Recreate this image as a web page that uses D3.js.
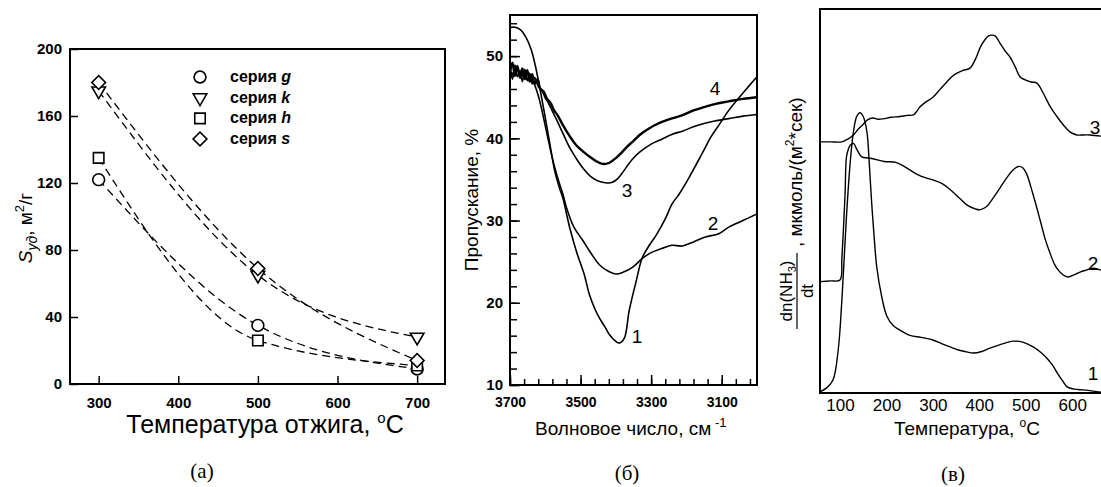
<!DOCTYPE html>
<html>
<head>
<meta charset="utf-8">
<script src="https://cdn.jsdelivr.net/npm/d3@7"></script>
<style>
  body { margin: 0; background: #fff; }
  svg { display: block; }
  text { font-family: Arial, "Liberation Sans", sans-serif; fill: #000; }
  .serif { font-family: "Times New Roman", "Liberation Serif", serif; }
</style>
</head>
<body>
<div id="chart"></div>
<script>
// ---- panel (a): specific surface vs annealing temperature ----
const annealTemp = [300, 500, 700];
const seriesNames = ["g", "k", "h", "s"];
const surfaceG = [122, 35, 9];
const surfaceK = [175, 65, 28];
const surfaceH = [135, 26, 11];
const surfaceS = [180, 69, 14];
const ticksA_x = [300, 400, 500, 600, 700];
const ticksA_y = [0, 40, 80, 120, 160, 200];

// ---- panel (б): IR transmission spectra ----
const wn1 = [3700, 3685, 3670, 3655, 3640, 3628, 3615, 3600, 3585, 3573, 3560, 3550, 3530, 3510, 3490, 3475, 3460, 3446, 3430, 3418, 3400, 3390, 3376, 3362, 3342, 3325, 3305, 3286, 3260, 3241, 3221, 3193, 3170, 3150, 3130, 3108, 3080, 3050, 3020, 3000];
const tr1 = [53.5, 53.5, 53.2, 52.3, 50.8, 48.8, 46, 42.5, 38.8, 36, 34, 32.7, 29, 26, 23.5, 21, 19.3, 18.1, 17, 16.1, 15.3, 15.1, 15.7, 19.1, 22.7, 25.5, 27, 28.2, 30.2, 32, 33.2, 35.2, 37, 38.6, 40.2, 41.6, 43.4, 45, 46.5, 47.5];
const wn2 = [3700, 3690, 3680, 3670, 3660, 3650, 3640, 3630, 3620, 3610, 3595, 3580, 3565, 3550, 3540, 3520, 3494, 3470, 3446, 3420, 3400, 3380, 3353, 3325, 3300, 3270, 3241, 3213, 3180, 3146, 3108, 3080, 3040, 3000];
const tr2 = [48.3, 47.6, 48.5, 47.3, 48, 47.1, 47.4, 46.5, 45.2, 43.5, 40.5, 37.6, 35.2, 33.2, 31.6, 29.3, 27.6, 26, 24.6, 23.8, 23.5, 23.7, 24.3, 25.4, 26.1, 26.6, 27, 26.9, 27.4, 28, 28.4, 29.2, 30, 30.8];
const wn3 = [3700, 3693, 3686, 3679, 3672, 3665, 3658, 3651, 3644, 3637, 3630, 3620, 3610, 3600, 3590, 3580, 3565, 3550, 3530, 3510, 3490, 3470, 3450, 3430, 3415, 3400, 3385, 3370, 3350, 3330, 3300, 3270, 3240, 3210, 3180, 3150, 3120, 3080, 3040, 3000];
const tr3 = [48.6, 47.2, 48.9, 47.5, 48.2, 46.9, 48.4, 47, 47.9, 46.6, 47.4, 46.3, 45.8, 44.9, 44.2, 43.3, 42, 40.6, 38.8, 37.4, 36.2, 35.3, 34.8, 34.6, 34.6, 34.9, 35.6, 36.5, 37.6, 38.4, 39.3, 39.9, 40.5, 40.9, 41.4, 41.8, 42.1, 42.4, 42.7, 42.9];
const wn4 = [3700, 3693, 3686, 3679, 3672, 3665, 3658, 3651, 3644, 3637, 3630, 3622, 3615, 3605, 3595, 3585, 3575, 3565, 3550, 3530, 3511, 3490, 3475, 3455, 3438, 3420, 3400, 3385, 3370, 3350, 3330, 3306, 3280, 3250, 3213, 3180, 3150, 3117, 3080, 3040, 3000];
const tr4 = [48, 49.2, 47.6, 48.8, 47.4, 48.5, 47.2, 48.3, 46.9, 47.8, 46.6, 47.2, 46.1, 45.7, 44.8, 44.3, 43.4, 42.8, 41.6, 40.2, 39.1, 38.3, 37.8, 37.2, 36.9, 37, 37.6, 38.2, 38.9, 39.7, 40.5, 41.2, 41.8, 42.3, 42.8, 43.4, 43.8, 44.2, 44.5, 44.8, 45];
const ticksB_x = [3700, 3500, 3300, 3100];
const ticksB_y = [10, 20, 30, 40, 50];

// ---- panel (в): NH3 TPD (arbitrary units) ----
const tpdT1 = [57, 70, 85, 96, 104, 114, 122, 129, 136, 143, 150, 158, 163, 168, 174, 179, 190, 201, 215, 229, 251, 275, 300, 320, 337, 355, 373, 387, 405, 423, 445, 473, 495, 516, 532, 546, 558, 568, 579, 589, 605, 624, 645, 662];
const tpd1 = [0.3, 1.2, 3.4, 11, 24, 46, 60, 68, 72, 73, 72, 68, 60, 50, 40, 33, 25, 20, 17.5, 16.4, 15, 14.5, 13.8, 12.8, 12, 11.2, 10.7, 10.4, 10.8, 11.7, 12.6, 13.5, 13.2, 12, 10.6, 9, 7.2, 5.2, 3.2, 1.6, 1, 0.8, 0.5, 0.2];
const tpdT2 = [57, 80, 100, 104, 107, 111, 114, 118, 122, 129, 136, 147, 160, 171, 195, 222, 245, 265, 285, 300, 320, 337, 355, 373, 390, 401, 415, 430, 445, 459, 472, 484, 494, 502, 515, 531, 542, 552, 562, 570, 580, 591, 605, 617, 630, 645, 662];
const tpd2 = [29, 29.2, 29.4, 35, 41.6, 52, 61.5, 63.5, 64.5, 65, 63.5, 61.5, 61.2, 61, 60.3, 60, 58.5, 57, 56, 55.5, 54.5, 53, 51, 49, 48, 47.7, 48.5, 50.8, 53.5, 56, 58, 59, 58.6, 57, 52, 45, 40, 36.5, 33.5, 32, 30.8, 30.2, 30.8, 31.5, 32, 32.5, 32];
const tpdT3 = [57, 80, 104, 115, 129, 140, 150, 160, 171, 182, 193, 210, 229, 245, 258, 265, 272, 285, 300, 315, 330, 342, 352, 365, 380, 392, 402, 412, 420, 427, 434, 445, 456, 466, 477, 488, 500, 512, 524, 538, 553, 567, 581, 595, 610, 625, 638, 662];
const tpd3 = [65.4, 65.4, 65.4, 66, 67.2, 68.8, 70, 71.2, 71.6, 71.3, 71.4, 71.8, 72, 72.3, 72.4, 73.3, 74.5, 75.8, 77, 79, 81, 82.5, 83.3, 84, 84.6, 87, 90, 92, 93, 93.2, 93, 91, 89, 87.5, 85, 82.3, 81.5, 81, 80.7, 78, 74.5, 72, 69.8, 68, 67.2, 67.2, 67.2, 66.9];
const ticksC_x = [100, 200, 300, 400, 500, 600];

const w = 1101;
const h = 487;

const svg = d3.select("#chart").append("svg")
  .attr("width", w)
  .attr("height", h);
svg.append("rect").attr("width", w).attr("height", h).attr("fill", "#fff");

const boldAxisText = (g, size) => {
  g.select(".domain").remove();
  g.selectAll("line").attr("stroke-width", 1.5);
  g.selectAll("text").attr("font-size", size).attr("font-weight", "bold")
    .attr("font-family", "Arial, 'Liberation Sans', sans-serif");
};

// =================== (a) ===================
const A = { left: 70, right: 445, top: 49, bottom: 384 };
const xA = d3.scaleLinear().domain([264, 735]).range([A.left, A.right]);
const yA = d3.scaleLinear().domain([0, 200]).range([A.bottom, A.top]);

const gA = svg.append("g");

gA.append("g")
  .attr("transform", `translate(0,${A.bottom})`)
  .call(d3.axisBottom(xA).tickValues(ticksA_x).tickSizeInner(-8).tickSizeOuter(0).tickPadding(13))
  .call(g => boldAxisText(g, 15));

gA.append("g")
  .attr("transform", `translate(${A.left},0)`)
  .call(d3.axisLeft(yA).tickValues(ticksA_y).tickSizeInner(-8).tickSizeOuter(0).tickPadding(8))
  .call(g => boldAxisText(g, 15));

gA.append("rect")
  .attr("x", A.left).attr("y", A.top)
  .attr("width", A.right - A.left).attr("height", A.bottom - A.top)
  .attr("fill", "none").attr("stroke", "#000").attr("stroke-width", 2);

const symbolFor = {
  g: d3.symbol().type(d3.symbolCircle).size(110),
  k: d3.symbol().type(d3.symbolTriangle).size(80),
  h: d3.symbol().type(d3.symbolSquare).size(110),
  s: d3.symbol().type(d3.symbolSquare).size(95)
};
const rotFor = { g: 0, k: 180, h: 0, s: 45 };
const valuesFor = { g: surfaceG, k: surfaceK, h: surfaceH, s: surfaceS };

// dashed curves first, markers on top
const lineA = d3.line().x(d => xA(d[0])).y(d => yA(d[1])).curve(d3.curveMonotoneX);
seriesNames.forEach(name => {
  const pts = annealTemp.map((t, i) => [t, valuesFor[name][i]]);
  gA.append("path")
    .attr("d", lineA(pts))
    .attr("fill", "none")
    .attr("stroke", "#000")
    .attr("stroke-width", 1.3)
    .attr("stroke-dasharray", "8,5");
});
seriesNames.forEach(name => {
  gA.selectAll(null)
    .data(annealTemp.map((t, i) => [t, valuesFor[name][i]]))
    .enter().append("path")
    .attr("d", symbolFor[name]())
    .attr("transform", d => `translate(${xA(d[0])},${yA(d[1])}) rotate(${rotFor[name]})`)
    .attr("fill", "#fff")
    .attr("stroke", "#000")
    .attr("stroke-width", 1.6);
});

// legend
const legA = gA.append("g");
seriesNames.forEach((name, i) => {
  const ly = 77 + i * 20.7;
  legA.append("path")
    .attr("d", symbolFor[name]())
    .attr("transform", `translate(200,${ly}) rotate(${rotFor[name]})`)
    .attr("fill", "#fff").attr("stroke", "#000").attr("stroke-width", 1.6);
  const t = legA.append("text")
    .attr("x", 230).attr("y", ly + 5)
    .attr("font-size", 16).attr("font-weight", "bold");
  t.append("tspan").text("серия ");
  t.append("tspan").attr("font-style", "italic").text(name);
});

// axis titles
const tA = gA.append("text")
  .attr("x", 265).attr("y", 433)
  .attr("text-anchor", "middle")
  .attr("font-size", 25);
tA.append("tspan").text("Температура отжига, ");
tA.append("tspan").attr("font-size", 15).attr("dy", -10).text("o");
tA.append("tspan").attr("dy", 10).text("C");

const yTitleA = gA.append("text")
  .attr("transform", "translate(32,228) rotate(-90)")
  .attr("text-anchor", "middle")
  .attr("font-size", 19);
yTitleA.append("tspan").attr("font-style", "italic").text("S");
yTitleA.append("tspan").attr("font-style", "italic").attr("font-size", 14).attr("dy", 5).text("уд");
yTitleA.append("tspan").attr("dy", -5).text(", м");
yTitleA.append("tspan").attr("font-size", 13).attr("dy", -8).text("2");
yTitleA.append("tspan").attr("dy", 8).text("/г");

svg.append("text").attr("class", "serif")
  .attr("x", 202).attr("y", 478).attr("text-anchor", "middle")
  .attr("font-size", 21).text("(а)");

// =================== (б) ===================
const B = { left: 510, right: 757, top: 15, bottom: 385 };
const xB = d3.scaleLinear().domain([3700, 3000]).range([B.left, B.right]);
const yB = d3.scaleLinear().domain([10, 55]).range([B.bottom, B.top]);

const gB = svg.append("g");

// minor ticks
gB.append("g")
  .attr("transform", `translate(0,${B.bottom})`)
  .call(d3.axisBottom(xB).tickValues(d3.range(3700, 2999, -40)).tickSizeInner(-6).tickSizeOuter(0).tickFormat(""))
  .call(g => boldAxisText(g, 14));
gB.append("g")
  .attr("transform", `translate(${B.left},0)`)
  .call(d3.axisLeft(yB).tickValues(d3.range(10, 55, 2)).tickSizeInner(-7).tickSizeOuter(0).tickFormat(""))
  .call(g => boldAxisText(g, 14));
// major ticks + labels
gB.append("g")
  .attr("transform", `translate(0,${B.bottom})`)
  .call(d3.axisBottom(xB).tickValues(ticksB_x).tickFormat(d3.format("d")).tickSizeInner(-10).tickSizeOuter(0).tickPadding(12))
  .call(g => boldAxisText(g, 14));
gB.append("g")
  .attr("transform", `translate(${B.left},0)`)
  .call(d3.axisLeft(yB).tickValues(ticksB_y).tickSizeInner(-10).tickSizeOuter(0).tickPadding(7))
  .call(g => boldAxisText(g, 15));

gB.append("clipPath").attr("id", "clipB")
  .append("rect").attr("x", B.left).attr("y", B.top)
  .attr("width", B.right - B.left).attr("height", B.bottom - B.top);

const lineB = d3.line().x(d => xB(d[0])).y(d => yB(d[1])).curve(d3.curveCatmullRom);
const spectra = [
  { wn: wn1, tr: tr1, sw: 1.6 },
  { wn: wn2, tr: tr2, sw: 1.6 },
  { wn: wn3, tr: tr3, sw: 1.6 },
  { wn: wn4, tr: tr4, sw: 2.4 }
];
spectra.forEach(s => {
  gB.append("path")
    .attr("clip-path", "url(#clipB)")
    .attr("d", lineB(s.wn.map((v, i) => [v, s.tr[i]])))
    .attr("fill", "none")
    .attr("stroke", "#000")
    .attr("stroke-width", s.sw)
    .attr("stroke-linejoin", "round");
});

gB.append("rect")
  .attr("x", B.left).attr("y", B.top)
  .attr("width", B.right - B.left).attr("height", B.bottom - B.top)
  .attr("fill", "none").attr("stroke", "#000").attr("stroke-width", 2);

// curve numbers
[["1", 637, 343], ["2", 713, 230], ["3", 627, 197], ["4", 715, 95]].forEach(d => {
  gB.append("text").attr("x", d[1]).attr("y", d[2])
    .attr("text-anchor", "middle").attr("font-size", 19).text(d[0]);
});

gB.append("text")
  .attr("transform", "translate(478,200) rotate(-90)")
  .attr("text-anchor", "middle")
  .attr("font-size", 19)
  .text("Пропускание, %");

const tB = gB.append("text")
  .attr("x", 535).attr("y", 435)
  .attr("font-size", 19);
tB.append("tspan").text("Волновое число, см");
tB.append("tspan").attr("font-size", 13).attr("dy", -8).text(" -1");

svg.append("text").attr("class", "serif")
  .attr("x", 627).attr("y", 480).attr("text-anchor", "middle")
  .attr("font-size", 21).text("(б)");

// =================== (в) ===================
const C = { left: 820, right: 1112, top: 9, bottom: 393 };
const xC = d3.scaleLinear().domain([57, 662]).range([C.left, 1101]);
const yC = d3.scaleLinear().domain([0, 100]).range([C.bottom, C.top]);

const gC = svg.append("g");

gC.append("g")
  .attr("transform", `translate(0,${C.bottom})`)
  .call(d3.axisBottom(xC).tickValues(ticksC_x).tickSize(0).tickPadding(6))
  .call(g => g.select(".domain").remove())
  .call(g => g.selectAll("text").attr("font-size", 17).attr("font-family", "Arial, 'Liberation Sans', sans-serif"));

const lineC = d3.line().x(d => xC(d[0])).y(d => yC(d[1])).curve(d3.curveCatmullRom);
[[tpdT1, tpd1], [tpdT2, tpd2], [tpdT3, tpd3]].forEach(s => {
  gC.append("path")
    .attr("d", lineC(s[0].map((t, i) => [t, s[1][i]])))
    .attr("fill", "none")
    .attr("stroke", "#000")
    .attr("stroke-width", 1.4)
    .attr("stroke-linejoin", "round");
});

gC.append("rect")
  .attr("x", C.left).attr("y", C.top)
  .attr("width", C.right - C.left).attr("height", C.bottom - C.top)
  .attr("fill", "none").attr("stroke", "#000").attr("stroke-width", 2);

[["3", 1095, 134], ["2", 1093, 270], ["1", 1093, 380]].forEach(d => {
  gC.append("text").attr("x", d[1]).attr("y", d[2])
    .attr("text-anchor", "middle").attr("font-size", 19).text(d[0]);
});

const tC = gC.append("text")
  .attr("x", 967).attr("y", 435)
  .attr("text-anchor", "middle")
  .attr("font-size", 19);
tC.append("tspan").text("Температура, ");
tC.append("tspan").attr("font-size", 12).attr("dy", -8).text("o");
tC.append("tspan").attr("dy", 8).text("C");

// y title with the fraction dn(NH3)/dt
const yTitleC = gC.append("g").attr("transform", "translate(797,291) rotate(-90)");
const num = yTitleC.append("text").attr("x", 0).attr("y", -5)
  .attr("text-anchor", "middle").attr("font-size", 17);
num.append("tspan").text("dn(NH");
num.append("tspan").attr("font-size", 11).attr("dy", 4).text("3");
num.append("tspan").attr("dy", -4).text(")");
yTitleC.append("line")
  .attr("x1", -38).attr("x2", 38).attr("y1", 0).attr("y2", 0)
  .attr("stroke", "#000").attr("stroke-width", 1.2);
yTitleC.append("text").attr("x", 0).attr("y", 16)
  .attr("text-anchor", "middle").attr("font-size", 17).text("dt");
const unitC = yTitleC.append("text").attr("x", 44).attr("y", 5)
  .attr("font-size", 19);
unitC.append("tspan").text(", мкмоль/(м");
unitC.append("tspan").attr("font-size", 12).attr("dy", -8).text("2");
unitC.append("tspan").attr("dy", 8).text("*сек)");

svg.append("text").attr("class", "serif")
  .attr("x", 953).attr("y", 481).attr("text-anchor", "middle")
  .attr("font-size", 21).text("(в)");
</script>
</body>
</html>
